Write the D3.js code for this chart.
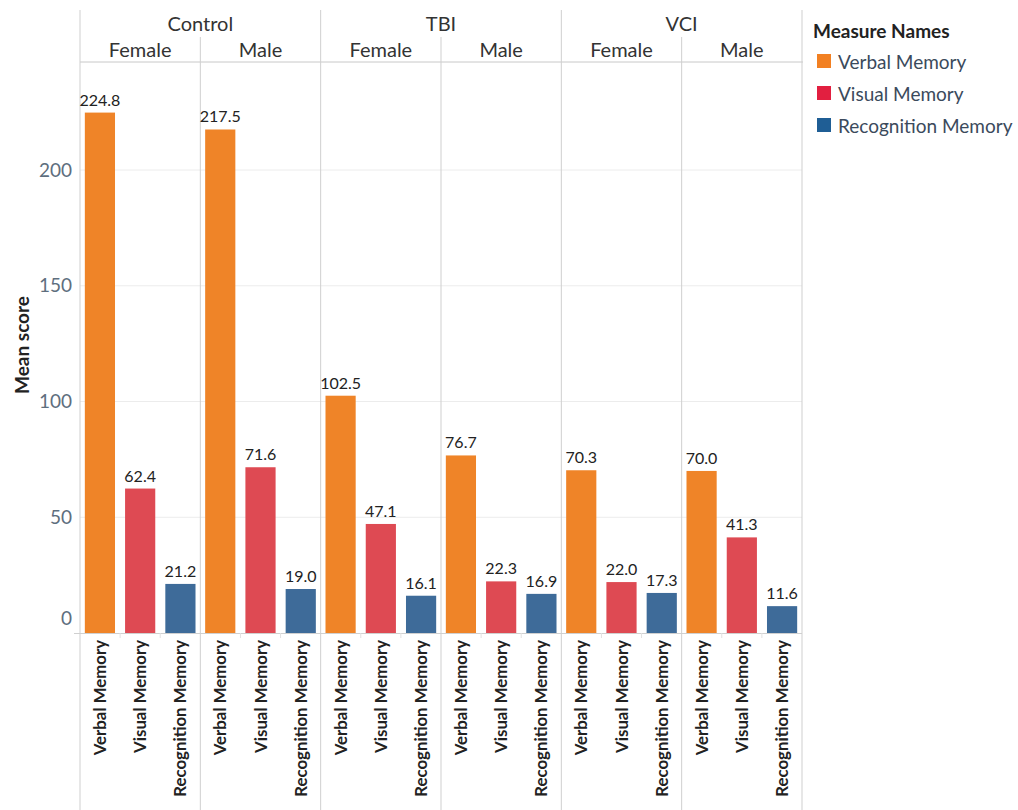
<!DOCTYPE html>
<html>
<head>
<meta charset="utf-8">
<script src="https://cdn.jsdelivr.net/npm/d3@7"></script>
<style>
  body { margin: 0; background: #fff; }
  text { font-family: Lato, "Open Sans", sans-serif; }
</style>
</head>
<body>
<svg id="chart"></svg>
<script>
// data
const groups = ["Control", "TBI", "VCI"];
const sexes = ["Female", "Male"];
const measures = ["Verbal Memory", "Visual Memory", "Recognition Memory"];
const verbalValues = [224.8, 217.5, 102.5, 76.7, 70.3, 70.0];
const visualValues = [62.4, 71.6, 47.1, 22.3, 22.0, 41.3];
const recognitionValues = [21.2, 19.0, 16.1, 16.9, 17.3, 11.6];
const yTicks = [0, 50, 100, 150, 200];

const width = 1018, height = 810;
const plotLeft = 80, plotRight = 802, plotTop = 62, plotBottom = 633;

const barColors = ["#ef8428", "#de4a53", "#3e6b99"];
const legendColors = ["#f28022", "#e21f40", "#1f5e95"];

// build rows
let panels = [];
groups.forEach((g, gi) => {
  sexes.forEach((s, si) => {
    const i = gi * 2 + si;
    panels.push({
      group: g, sex: s, key: g + "|" + s,
      values: [verbalValues[i], visualValues[i], recognitionValues[i]]
    });
  });
});

const svg = d3.select("#chart").attr("width", width).attr("height", height);

const xPanel = d3.scaleBand()
  .domain(panels.map(d => d.key))
  .range([plotLeft, plotRight]);

const xBar = d3.scaleBand()
  .domain(measures)
  .range([0, xPanel.bandwidth()])
  .paddingInner(0.25)
  .paddingOuter(0.12);

const y = d3.scaleLinear()
  .domain([0, 200])
  .range([plotBottom, 170]);

const color = d3.scaleOrdinal().domain(measures).range(barColors);

// gridlines
svg.append("g")
  .selectAll("line")
  .data(yTicks.filter(t => t > 0))
  .join("line")
  .attr("x1", plotLeft).attr("x2", plotRight)
  .attr("y1", d => y(d)).attr("y2", d => y(d))
  .attr("stroke", "#ececec")
  .attr("stroke-width", 1);

// y axis labels
const yAxis = d3.axisLeft(y).tickValues(yTicks).tickSize(0).tickPadding(8);
const yAxisG = svg.append("g")
  .attr("transform", `translate(${plotLeft},0)`)
  .call(yAxis);
yAxisG.select(".domain").remove();
yAxisG.selectAll("text")
  .attr("font-size", 19)
  .attr("fill", "#5e6e7e")
  .attr("font-family", "Lato, 'Open Sans', sans-serif")
  .attr("dy", d => d === 0 ? "-0.45em" : "0.32em");

// y title
svg.append("text")
  .attr("transform", `translate(29,345) rotate(-90)`)
  .attr("text-anchor", "middle")
  .attr("font-size", 19)
  .attr("font-weight", "bold")
  .attr("fill", "#222")
  .text("Mean score");

// header line
svg.append("line")
  .attr("x1", plotLeft).attr("x2", plotRight + 1)
  .attr("y1", plotTop).attr("y2", plotTop)
  .attr("stroke", "#c8c8c8");

// baseline
svg.append("line")
  .attr("x1", plotLeft - 6).attr("x2", plotRight)
  .attr("y1", plotBottom + 0.5).attr("y2", plotBottom + 0.5)
  .attr("stroke", "#d0d0d0");

// panel dividers
panels.forEach((p, i) => {
  const x0 = xPanel(p.key);
  const isGroupStart = i % 2 === 0;
  svg.append("line")
    .attr("x1", x0).attr("x2", x0)
    .attr("y1", isGroupStart ? 10 : 37).attr("y2", height)
    .attr("stroke", "#cfcfcf");
});
svg.append("line")
  .attr("x1", plotRight).attr("x2", plotRight)
  .attr("y1", 10).attr("y2", height)
  .attr("stroke", "#cfcfcf");

// group headers
groups.forEach((g, gi) => {
  const x0 = xPanel(g + "|Female");
  svg.append("text")
    .attr("x", x0 + xPanel.bandwidth())
    .attr("y", 31)
    .attr("text-anchor", "middle")
    .attr("font-size", 20)
    .attr("fill", "#333")
    .text(g);
});

const panelG = svg.selectAll(".panel")
  .data(panels)
  .join("g")
  .attr("class", "panel")
  .attr("transform", d => `translate(${xPanel(d.key)},0)`);

// sex headers
panelG.append("text")
  .attr("x", xPanel.bandwidth() / 2)
  .attr("y", 57)
  .attr("text-anchor", "middle")
  .attr("font-size", 20)
  .attr("fill", "#333")
  .text(d => d.sex);

// small ticks between bars
panelG.selectAll(".tick-mark")
  .data([1, 2])
  .join("line")
  .attr("x1", k => k * xPanel.bandwidth() / 3)
  .attr("x2", k => k * xPanel.bandwidth() / 3)
  .attr("y1", plotBottom).attr("y2", plotBottom + 5)
  .attr("stroke", "#e2e2e2");

const barData = p => measures.map((m, j) => ({ measure: m, value: p.values[j] }));

// bars
panelG.selectAll(".bar")
  .data(barData)
  .join("rect")
  .attr("class", "bar")
  .attr("x", d => xBar(d.measure))
  .attr("width", xBar.bandwidth())
  .attr("y", d => y(d.value))
  .attr("height", d => y(0) - y(d.value))
  .attr("fill", d => color(d.measure));

// value labels
panelG.selectAll(".val")
  .data(barData)
  .join("text")
  .attr("class", "val")
  .attr("x", d => xBar(d.measure) + xBar.bandwidth() / 2)
  .attr("y", d => y(d.value) - 7)
  .attr("text-anchor", "middle")
  .attr("font-size", 16)
  .attr("fill", "#222")
  .text(d => d.value.toFixed(1));

// x labels rotated
panelG.selectAll(".xlab")
  .data(barData)
  .join("text")
  .attr("class", "xlab")
  .attr("transform", d => `translate(${xBar(d.measure) + xBar.bandwidth() / 2 + 6},${plotBottom + 7}) rotate(-90)`)
  .attr("text-anchor", "end")
  .attr("font-size", 16.8)
  .attr("font-weight", "bold")
  .attr("fill", "#222")
  .text(d => d.measure);

// legend
const legend = svg.append("g").attr("transform", "translate(813,0)");
legend.append("text")
  .attr("x", 0).attr("y", 38)
  .attr("font-size", 19)
  .attr("font-weight", "bold")
  .attr("fill", "#222")
  .text("Measure Names");

const legendItems = legend.selectAll(".item")
  .data(measures)
  .join("g")
  .attr("class", "item")
  .attr("transform", (d, i) => `translate(0,${62 + i * 32})`);

legendItems.append("rect")
  .attr("x", 4).attr("y", -8)
  .attr("width", 14).attr("height", 14)
  .attr("fill", (d, i) => legendColors[i]);

legendItems.append("text")
  .attr("x", 25).attr("y", 7)
  .attr("font-size", 19)
  .attr("fill", "#3b4a5c")
  .text(d => d);
</script>
</body>
</html>
